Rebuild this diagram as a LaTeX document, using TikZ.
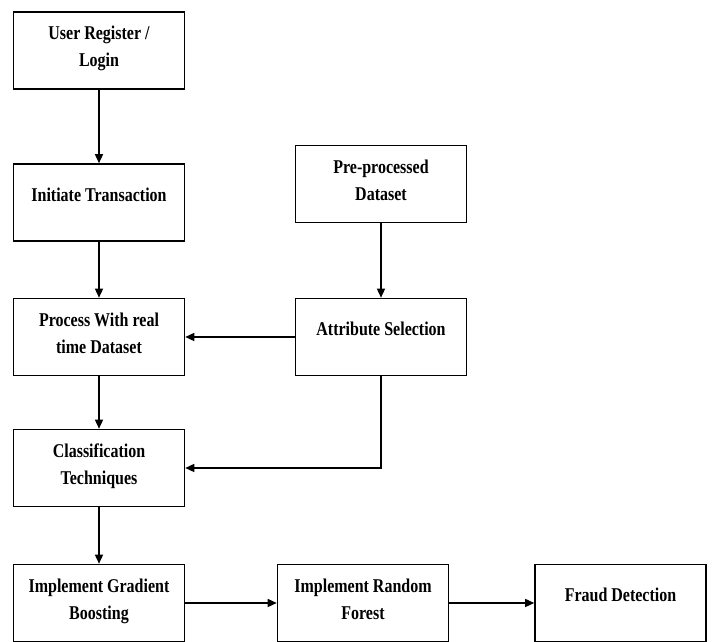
\documentclass[tikz,border=0pt]{standalone}
\usepackage{fontspec}
\setmainfont{Liberation Serif}[FakeStretch=0.82]
\usepackage{tikz}
\usetikzlibrary{arrows.meta, positioning}
\tikzstyle{block} = [draw, fill=white, rectangle, line width=1.6pt,
    minimum height=77pt, minimum width=171pt, align=center,
    font=\fontsize{19.5}{27}\selectfont\bfseries, text depth=16pt]
\tikzstyle{twoline} = [text depth=8pt]
\tikzstyle{line} = [line width=1.5pt]

\begin{document}
\begin{tikzpicture}[x=1pt, y=1pt, >={Triangle[length=9pt,width=8pt]}]
    \useasboundingbox (0,0) rectangle (713,642);
    \node [block, twoline] at (99,591.5) (user) {User Register /\\Login};
    \node [block, below of=user, node distance=152pt] (init) {Initiate Transaction};
    \node [block, twoline, below of=init, node distance=134.5pt] (proc) {Process With real\\time Dataset};
    \node [block, right of=proc, node distance=282pt] (attr) {Attribute Selection};
    \node [block, twoline, above of=attr, node distance=153pt] (pre) {Pre-processed\\Dataset};
    \node [block, twoline, below of=proc, node distance=131pt] (cls) {Classification\\Techniques};
    \node [block, twoline, below of=cls, node distance=135pt] (gb) {Implement Gradient\\Boosting};
    \node [block, twoline, right of=gb, node distance=264pt] (rf) {Implement Random\\Forest};
    \node [block, right of=rf, node distance=257.5pt] (fraud) {Fraud Detection};
    \draw [line,->] (user) -- (init);
    \draw [line,->] (init) -- (proc);
    \draw [line,->] (pre) -- (attr);
    \draw [line,->] (attr) -- (proc);
    \draw [line,->] (proc) -- (cls);
    \draw [line,->] (attr.south) |- (cls.east);
    \draw [line,->] (cls) -- (gb);
    \draw [line,->] (gb) -- (rf);
    \draw [line,->] (rf) -- (fraud);
\end{tikzpicture}
\end{document}
